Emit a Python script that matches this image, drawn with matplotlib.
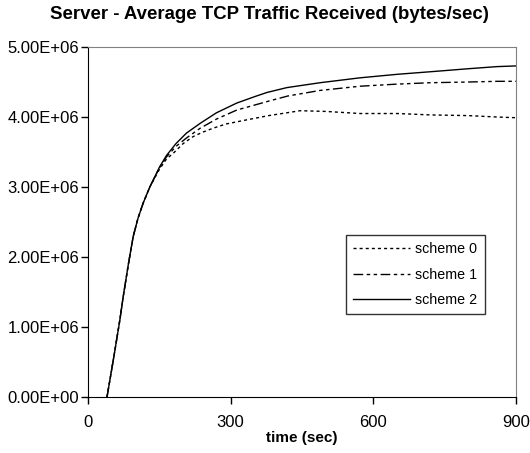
import matplotlib.pyplot as plt
from matplotlib.ticker import FuncFormatter

plt.rcParams['font.family'] = ['Liberation Sans', 'DejaVu Sans']

# time (sec) and received traffic (bytes/sec) for each scheme
t0 = [40, 55, 67, 74, 85, 95, 105, 116, 130, 150, 165, 179, 200, 221, 240, 263, 290,
      334, 380, 446, 500, 572, 650, 720, 800, 860, 900]
scheme0 = [0, 0.6e6, 1.1e6, 1.43e6, 1.9e6, 2.29e6, 2.55e6, 2.77e6, 3.0e6, 3.25e6, 3.4e6,
           3.48e6, 3.62e6, 3.72e6, 3.78e6, 3.84e6, 3.90e6, 3.96e6, 4.02e6, 4.09e6, 4.08e6,
           4.05e6, 4.05e6, 4.03e6, 4.02e6, 4.00e6, 3.99e6]

t1 = [40, 55, 67, 74, 85, 95, 105, 116, 130, 150, 165, 185, 207, 236, 270, 313, 350,
      376, 420, 488, 572, 650, 720, 800, 860, 900]
scheme1 = [0, 0.6e6, 1.1e6, 1.43e6, 1.9e6, 2.29e6, 2.55e6, 2.77e6, 3.0e6, 3.27e6, 3.43e6,
           3.58e6, 3.70e6, 3.84e6, 3.97e6, 4.10e6, 4.17e6, 4.22e6, 4.30e6, 4.38e6, 4.44e6,
           4.47e6, 4.49e6, 4.50e6, 4.51e6, 4.51e6]

t2 = [40, 55, 67, 74, 85, 95, 105, 116, 130, 150, 165, 185, 207, 236, 270, 313, 350,
      376, 418, 488, 572, 650, 726, 800, 860, 900]
scheme2 = [0, 0.6e6, 1.1e6, 1.43e6, 1.9e6, 2.29e6, 2.55e6, 2.77e6, 3.0e6, 3.28e6, 3.45e6,
           3.62e6, 3.77e6, 3.91e6, 4.06e6, 4.20e6, 4.29e6, 4.35e6, 4.42e6, 4.49e6, 4.56e6,
           4.61e6, 4.65e6, 4.69e6, 4.72e6, 4.73e6]

fig = plt.figure(figsize=(5.30, 4.53), dpi=100)
ax = fig.add_axes([0.166, 0.1236, 0.8076, 0.7726])

ax.plot(t0, scheme0, color='black', lw=1.0, ls=(0, (2.2, 2.2)), label='scheme 0')
ax.plot(t1, scheme1, color='black', lw=1.0, ls=(0, (7, 2.5, 2.5, 2.5, 2.5, 2.5)),
        label='scheme 1')
ax.plot(t2, scheme2, color='black', lw=1.0, ls='-', label='scheme 2')

ax.set_xlim(0, 900)
ax.set_ylim(0, 5e6)
ax.set_xticks([0, 300, 600, 900])
ax.set_yticks([0, 1e6, 2e6, 3e6, 4e6, 5e6])
ax.yaxis.set_major_formatter(FuncFormatter(lambda v, p: '%.2E' % v))
ax.tick_params(direction='out', length=5, width=1, labelsize=12, colors='black')
ax.tick_params(axis='y', pad=1.5)
ax.tick_params(axis='x', pad=8)

for side in ['top', 'right']:
    ax.spines[side].set_color('#808080')
for side in ['left', 'bottom']:
    ax.spines[side].set_color('black')

ax.set_xlabel('time (sec)', fontsize=11, fontweight='bold', labelpad=1)
fig.text(0.509, 0.967, 'Server - Average TCP Traffic Received (bytes/sec)',
         fontsize=13.4, fontweight='bold', ha='center', va='center')

leg = ax.legend(loc='upper left', bbox_to_anchor=(0.603, 0.463), fontsize=10.3,
                frameon=True, fancybox=False, handlelength=4.0, borderpad=0.5,
                labelspacing=0.8, handletextpad=0.35, borderaxespad=0)
leg.get_frame().set_edgecolor('black')
leg.get_frame().set_linewidth(1.0)

fig.savefig('out.png', dpi=100)
